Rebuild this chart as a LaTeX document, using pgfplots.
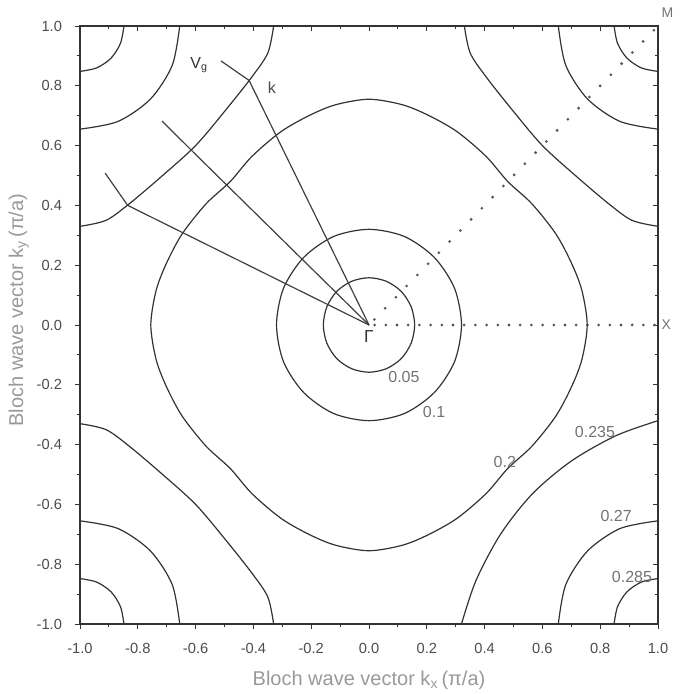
\documentclass[border=0pt]{standalone}
\usepackage{pgfplots}
\pgfplotsset{compat=1.18}
\usepackage{fontspec}
\setmainfont{Liberation Sans}

\begin{document}
\begin{tikzpicture}[
  contour/.style={black!80, line width=0.9pt, smooth},
  vec/.style={black!75, line width=0.9pt},
  clabel/.style={font=\fontsize{12}{14}\selectfont, text=black!55},
]
\pgfplotsset{
  bzbase/.style={
    width=433.5pt, height=448.5pt, scale only axis,
    xmin=-1, xmax=1, ymin=-1, ymax=1,
    xtick={-1,-0.8,-0.6,-0.4,-0.2,0,0.2,0.4,0.6,0.8,1},
    ytick={-1,-0.8,-0.6,-0.4,-0.2,0,0.2,0.4,0.6,0.8,1},
    minor x tick num=1, minor y tick num=1,
    major tick length=4pt, minor tick length=2.5pt,
    axis line style={black!80, line width=0.8pt},
    tick style={black!80, line width=0.7pt},
  },
}
% mirrored ticks on the top and right edges (pointing inward)
\begin{axis}[bzbase,
  xtick pos=upper, ytick pos=right, tick align=inside,
  xticklabels={}, yticklabels={}]
\end{axis}

\begin{axis}[bzbase,
  xtick pos=lower, ytick pos=left, tick align=outside,
  clip mode=individual,
  xticklabels={-1.0,-0.8,-0.6,-0.4,-0.2,0.0,0.2,0.4,0.6,0.8,1.0},
  yticklabels={-1.0,-0.8,-0.6,-0.4,-0.2,0.0,0.2,0.4,0.6,0.8,1.0},
  ticklabel style={font=\fontsize{11}{13}\selectfont, text=black!70},
  xticklabel style={yshift=-7pt},
  yticklabel style={xshift=-6pt},
  xlabel={Bloch wave vector k\textsubscript{x}\,(π/a)},
  ylabel={Bloch wave vector k\textsubscript{y}\,(π/a)},
  label style={font=\fontsize{15}{17}\selectfont, text=black!40},
  xlabel style={at={(axis description cs:0.5,-0.095)}, anchor=center},
  ylabel style={at={(axis description cs:-0.106,0.525)}, anchor=center},
]

% high-symmetry directions Gamma-X and Gamma-M
\addplot[black!65, line width=2.3pt, line cap=round, dash pattern=on 0pt off 8.4pt, dash phase=4.2pt]
  coordinates {(0,0) (1,0)};
\addplot[black!65, line width=2.3pt, line cap=round, dash pattern=on 0pt off 11.6pt, dash phase=5.8pt]
  coordinates {(0,0) (1,1)};

% f = 0.05
\addplot[contour, smooth cycle] coordinates {
  (0.158,0) (0.146,0.0605) (0.112,0.112) (0.0605,0.146) (0,0.158)
  (-0.0605,0.146) (-0.112,0.112) (-0.146,0.0605) (-0.158,0)
  (-0.146,-0.0605) (-0.112,-0.112) (-0.0605,-0.146) (0,-0.158)
  (0.0605,-0.146) (0.112,-0.112) (0.146,-0.0605)};

% f = 0.1
\addplot[contour, smooth cycle] coordinates {
  (0.32,0) (0.296,0.1225) (0.226,0.226) (0.1225,0.296) (0,0.32)
  (-0.1225,0.296) (-0.226,0.226) (-0.296,0.1225) (-0.32,0)
  (-0.296,-0.1225) (-0.226,-0.226) (-0.1225,-0.296) (0,-0.32)
  (0.1225,-0.296) (0.226,-0.226) (0.296,-0.1225)};

% f = 0.2
\addplot[contour, smooth cycle] coordinates {
  (0.755,0) (0.737,0.114) (0.702,0.204) (0.647,0.304) (0.564,0.405)
  (0.48,0.48)
  (0.405,0.564) (0.304,0.647) (0.204,0.702) (0.114,0.737) (0,0.755)
  (-0.114,0.737) (-0.204,0.702) (-0.304,0.647) (-0.405,0.564)
  (-0.48,0.48)
  (-0.564,0.405) (-0.647,0.304) (-0.702,0.204) (-0.737,0.114) (-0.755,0)
  (-0.737,-0.114) (-0.702,-0.204) (-0.647,-0.304) (-0.564,-0.405)
  (-0.48,-0.48)
  (-0.405,-0.564) (-0.304,-0.647) (-0.204,-0.702) (-0.114,-0.737) (0,-0.755)
  (0.114,-0.737) (0.204,-0.702) (0.304,-0.647) (0.405,-0.564)
  (0.48,-0.48)
  (0.564,-0.405) (0.647,-0.304) (0.702,-0.204) (0.737,-0.114)};

% f = 0.235 (around the M points)
\addplot[contour] coordinates {(-1,0.33) (-0.91,0.35) (-0.83,0.405) (-0.72,0.495) (-0.60,0.60) (-0.495,0.72) (-0.405,0.83) (-0.35,0.91) (-0.33,1)};
\addplot[contour] coordinates {(0.33,1) (0.35,0.91) (0.405,0.83) (0.495,0.72) (0.60,0.60) (0.72,0.495) (0.83,0.405) (0.91,0.35) (1,0.33)};
\addplot[contour] coordinates {(-1,-0.33) (-0.91,-0.35) (-0.83,-0.405) (-0.72,-0.495) (-0.60,-0.60) (-0.495,-0.72) (-0.405,-0.83) (-0.35,-0.91) (-0.33,-1)};
\addplot[contour] coordinates {(1,-0.32) (0.855,-0.37) (0.70,-0.455) (0.565,-0.565) (0.455,-0.70) (0.37,-0.855) (0.32,-1)};

% f = 0.27
\addplot[contour] coordinates {(-1,0.655) (-0.868,0.681) (-0.756,0.756) (-0.681,0.868) (-0.655,1)};
\addplot[contour] coordinates {(0.655,1) (0.681,0.868) (0.756,0.756) (0.868,0.681) (1,0.655)};
\addplot[contour] coordinates {(-1,-0.655) (-0.868,-0.681) (-0.756,-0.756) (-0.681,-0.868) (-0.655,-1)};
\addplot[contour] coordinates {(1,-0.655) (0.868,-0.681) (0.756,-0.756) (0.681,-0.868) (0.655,-1)};

% f = 0.285
\addplot[contour] coordinates {(-1,0.848) (-0.942,0.86) (-0.8925,0.8925) (-0.86,0.942) (-0.848,1)};
\addplot[contour] coordinates {(0.848,1) (0.86,0.942) (0.8925,0.8925) (0.942,0.86) (1,0.848)};
\addplot[contour] coordinates {(-1,-0.848) (-0.942,-0.86) (-0.8925,-0.8925) (-0.86,-0.942) (-0.848,-1)};
\addplot[contour] coordinates {(1,-0.848) (0.942,-0.86) (0.8925,-0.8925) (0.86,-0.942) (0.848,-1)};

% wave vectors k from Gamma to the f = 0.235 contour
\addplot[vec] coordinates {(0,0) (-0.415,0.818)};
\addplot[vec] coordinates {(0,0) (-0.61,0.58)};
\addplot[vec] coordinates {(0,0) (-0.835,0.40)};
% group velocities, normal to the contour
\addplot[vec] coordinates {(-0.415,0.818) (-0.512,0.883)};
\addplot[vec] coordinates {(-0.61,0.58) (-0.716,0.682)};
\addplot[vec] coordinates {(-0.835,0.40) (-0.913,0.508)};

% labels
\node[clabel] at (axis cs:0.121,-0.174) {0.05};
\node[clabel] at (axis cs:0.225,-0.291) {0.1};
\node[clabel] at (axis cs:0.47,-0.458) {0.2};
\node[clabel] at (axis cs:0.782,-0.358) {0.235};
\node[clabel] at (axis cs:0.855,-0.639) {0.27};
\node[clabel] at (axis cs:0.91,-0.843) {0.285};
\node[font=\fontsize{13}{15}\selectfont, text=black!80] at (axis cs:0,-0.04) {Γ};
\node[font=\fontsize{12}{14}\selectfont, text=black!80] at (axis cs:-0.588,0.87) {V\textsubscript{g}};
\node[font=\fontsize{12}{14}\selectfont, text=black!70] at (axis cs:-0.336,0.793) {k};
\node[font=\fontsize{10.5}{12}\selectfont, text=black!55, anchor=west, inner sep=0pt] at (axis cs:1.012,1.043) {M};
\node[font=\fontsize{10.5}{12}\selectfont, text=black!55, anchor=west, inner sep=0pt] at (axis cs:1.012,0.0) {X};
\end{axis}

\pgfresetboundingbox
\path[use as bounding box]
  ([shift={(-60pt,-52.5pt)}]current axis.south west)
  rectangle ([shift={(15.75pt,19.5pt)}]current axis.north east);
\end{tikzpicture}
\end{document}
